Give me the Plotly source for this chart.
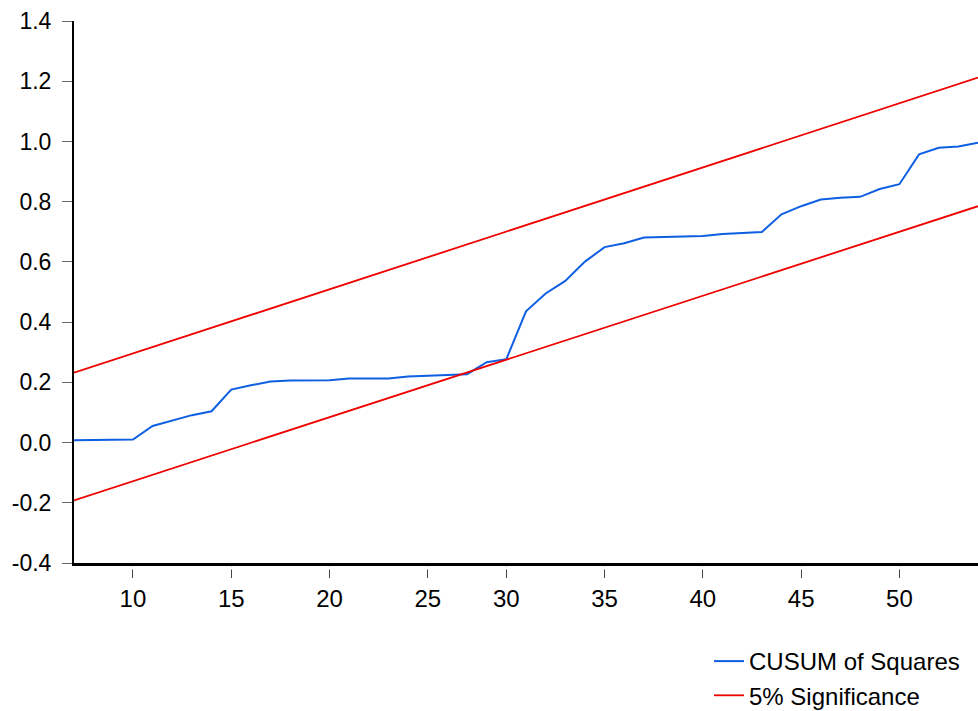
import plotly.graph_objects as go

# observation labels (label 28 absent in the source axis)
obs = [str(i) for i in range(7, 28)] + [str(i) for i in range(29, 55)]

cusum_sq = [0.008, 0.009, 0.010, 0.010, 0.055, 0.073, 0.091, 0.104, 0.176, 0.190,
            0.203, 0.206, 0.207, 0.207, 0.213, 0.213, 0.213, 0.219, 0.222, 0.226,
            0.227, 0.267, 0.277, 0.436, 0.495, 0.537, 0.601, 0.649, 0.662, 0.681,
            0.682, 0.683, 0.686, 0.693, 0.696, 0.699, 0.758, 0.785, 0.807, 0.813,
            0.816, 0.842, 0.858, 0.957, 0.979, 0.983, 0.996]

bound_obs = [obs[0], obs[-1]]
upper_5pct = [0.232, 1.212]
lower_5pct = [-0.192, 0.785]

x_ticks = ["10", "15", "20", "25", "30", "35", "40", "45", "50"]
y_ticks = [-0.4, -0.2, 0.0, 0.2, 0.4, 0.6, 0.8, 1.0, 1.2, 1.4]
y_tick_text = ["-0.4", "-0.2", "0.0", "0.2", "0.4", "0.6", "0.8", "1.0", "1.2", "1.4"]

BLUE = "#0f5fe3"
RED = "#ee0000"
FONT = "Liberation Sans, Arial, sans-serif"

W, H = 978, 711
M_L, M_R, M_T, M_B = 74, 0, 21, 148
PH = H - M_T - M_B

fig = go.Figure()
fig.add_trace(go.Scatter(x=obs, y=cusum_sq, mode="lines", name="CUSUM of Squares",
                         line=dict(color=BLUE, width=2)))
fig.add_trace(go.Scatter(x=bound_obs, y=upper_5pct, mode="lines", name="5% Significance",
                         legendgroup="sig", line=dict(color=RED, width=1.8)))
fig.add_trace(go.Scatter(x=bound_obs, y=lower_5pct, mode="lines", name="5% Significance",
                         legendgroup="sig", showlegend=False,
                         line=dict(color=RED, width=1.8)))

fig.update_layout(
    width=W, height=H,
    margin=dict(l=M_L, r=M_R, t=M_T, b=M_B, pad=0, autoexpand=False),
    paper_bgcolor="white", plot_bgcolor="white",
    font=dict(family=FONT, color="black"),
    showlegend=True,
    legend=dict(x=(709 - M_L) / (W - M_L), y=-(639 - (H - M_B)) / PH,
                xanchor="left", yanchor="top",
                font=dict(size=24, family=FONT),
                bgcolor="rgba(0,0,0,0)", tracegroupgap=0),
)
fig.update_xaxes(
    type="category", categoryorder="array", categoryarray=obs,
    range=[0, len(obs) - 1],
    tickmode="array", tickvals=x_ticks, ticktext=x_ticks,
    ticks="outside", ticklen=12, tickwidth=1.2, tickcolor="#444",
    tickfont=dict(size=24, family=FONT),
    showline=True, linecolor="black", linewidth=3,
    showgrid=False, zeroline=False, automargin=False,
)
fig.update_yaxes(
    range=[-0.4, 1.4],
    tickmode="array", tickvals=y_ticks, ticktext=y_tick_text,
    ticks="outside", ticklen=10, tickwidth=1.2, tickcolor="#666",
    tickfont=dict(size=23, family=FONT),
    ticklabelstandoff=6,
    showline=True, linecolor="black", linewidth=2,
    showgrid=False, zeroline=False, automargin=False,
)
# gap between the bottom axis line and its tick marks
fig.add_shape(type="rect", xref="paper", yref="paper", x0=0.005, x1=1.0,
              y0=-6.5 / PH, y1=-3.2 / PH, fillcolor="white", line=dict(width=0),
              layer="above")

fig.write_html("out.html", config={"displayModeBar": False},
               post_script="document.body.style.margin='0';document.body.style.overflow='hidden';")
